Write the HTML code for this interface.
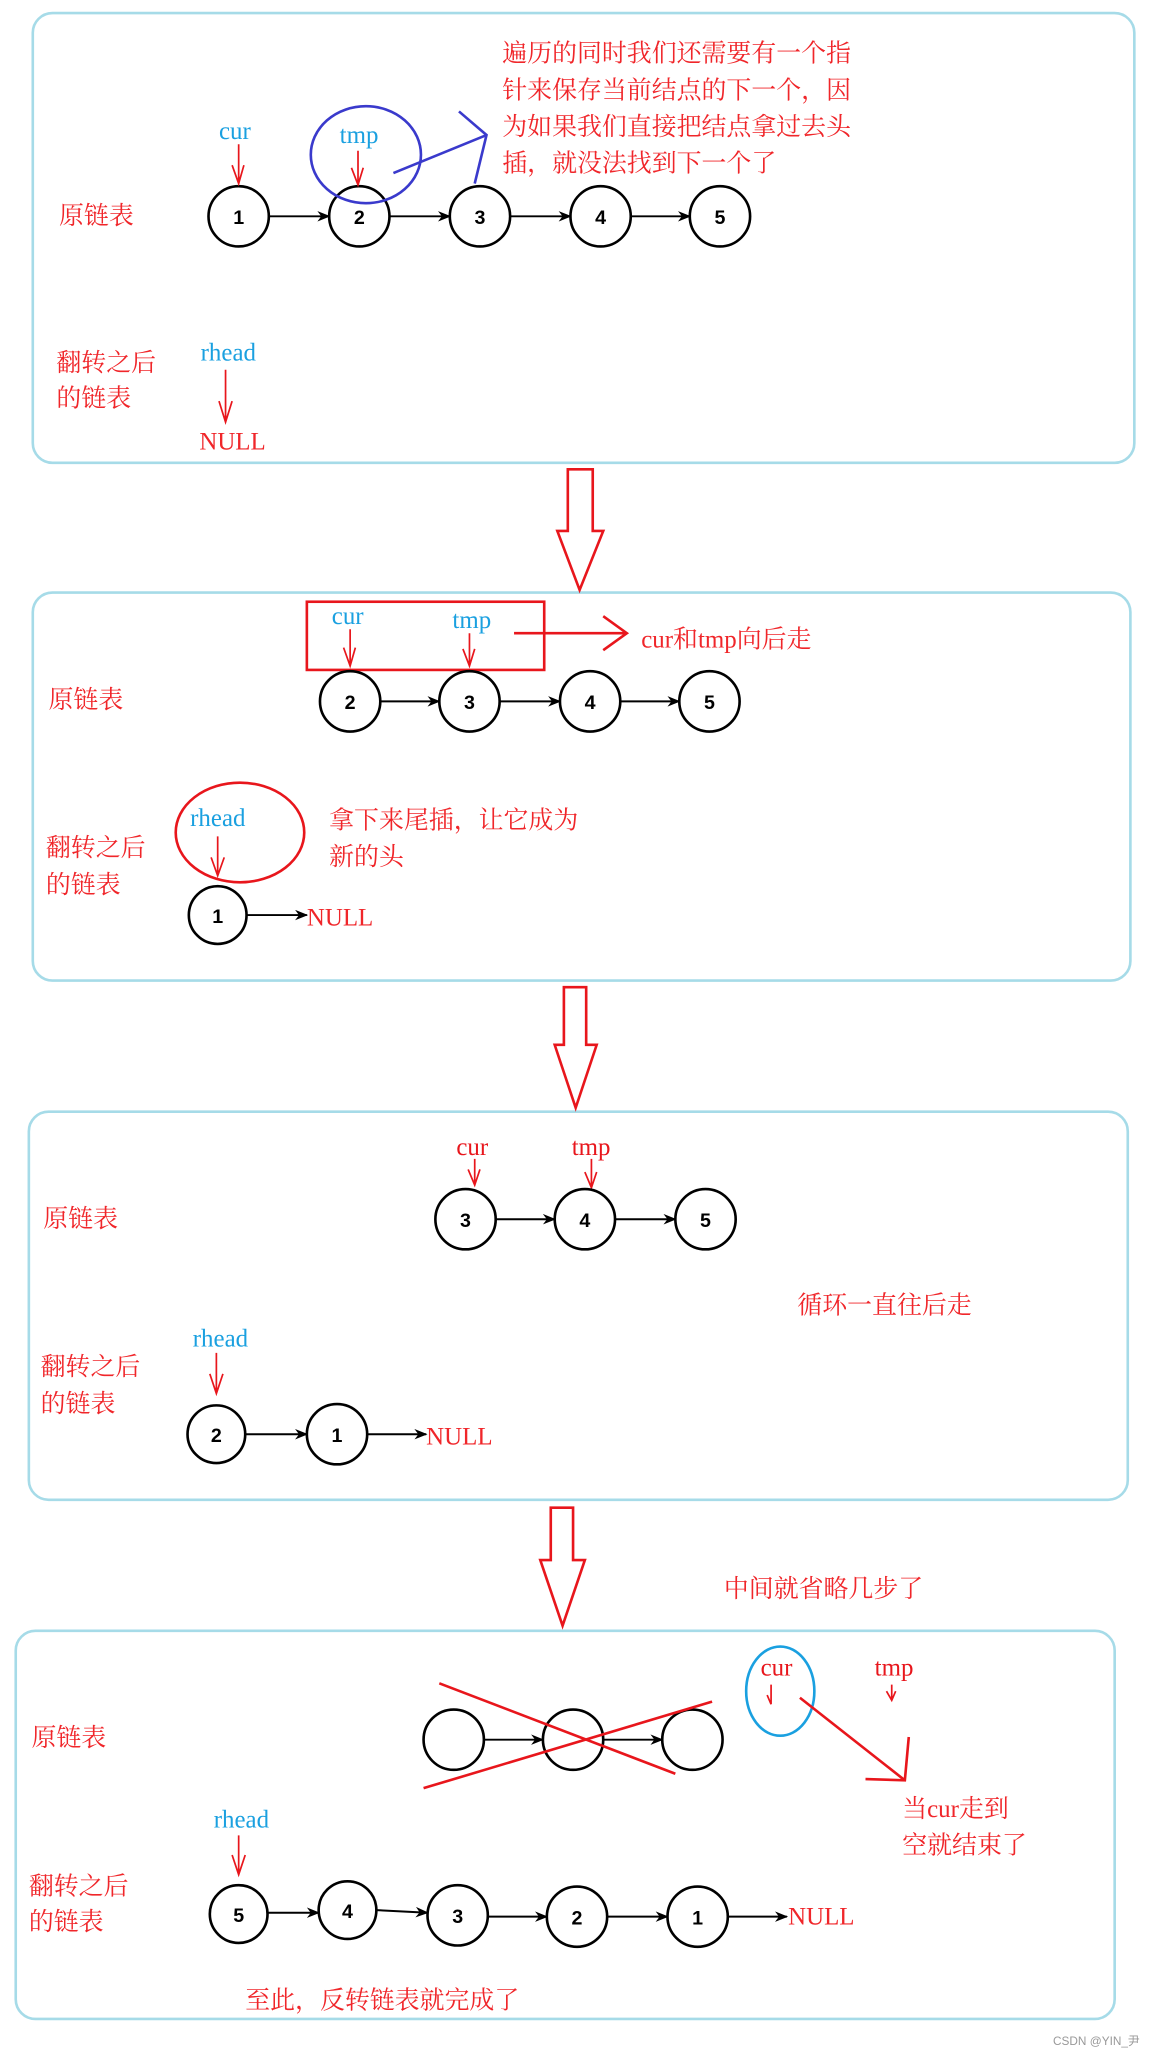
<!DOCTYPE html>
<html><head><meta charset="utf-8"><style>
html,body{margin:0;padding:0;background:#fff}
svg{display:block}
.t{font-family:"Liberation Serif","Noto Serif CJK SC",serif;fill:#f0262a;font-size:19px}
.c{font-family:"Liberation Serif","Noto Serif CJK SC",serif;font-size:19px}
.n{font-family:"Liberation Sans",sans-serif;font-weight:bold;font-size:15px;text-anchor:middle}
</style></head><body>
<svg width="1154" height="2053" viewBox="0 0 880 1566" preserveAspectRatio="none" xmlns="http://www.w3.org/2000/svg">
<defs>
<marker id="ah" markerWidth="10" markerHeight="8" refX="9" refY="4" orient="auto" markerUnits="userSpaceOnUse"><path d="M0,0 L10,4 L0,8 L3,4 z" fill="#000"/></marker>
</defs>
<g fill="none" stroke="#a6dbe8" stroke-width="2">
<rect x="25" y="10" width="840" height="343" rx="15"/>
<rect x="25" y="452" width="837" height="296" rx="15"/>
<rect x="22" y="848" width="838" height="296" rx="15"/>
<rect x="12" y="1244" width="838" height="296" rx="15"/>
</g>
<!-- big arrows -->
<g fill="none" stroke="#e8161c" stroke-width="2">
<path d="M433,358 L452,358 L452,405 L460,405 L442,450 L425,405 L433,405 Z"/>
<path d="M430,753 L447,753 L447,797 L455,797 L439,845 L423,797 L430,797 Z"/>
<path d="M420,1150 L437,1150 L437,1190 L446,1190 L429,1240 L412,1190 L420,1190 Z"/>
</g>
<!-- Box1 -->
<text class="t" x="45" y="171">原链表</text>
<g fill="#fff" stroke="#000" stroke-width="2">
<circle cx="182" cy="165" r="23"/><circle cx="274" cy="165" r="23"/><circle cx="366" cy="165" r="23"/><circle cx="458" cy="165" r="23"/><circle cx="549" cy="165" r="23"/>
</g>
<g stroke="#000" stroke-width="1.5" marker-end="url(#ah)">
<line x1="205" y1="165" x2="251" y2="165"/><line x1="297" y1="165" x2="343" y2="165"/><line x1="389" y1="165" x2="435" y2="165"/><line x1="481" y1="165" x2="526" y2="165"/>
</g>
<g class="n"><text x="182" y="171">1</text><text x="274" y="171">2</text><text x="366" y="171">3</text><text x="458" y="171">4</text><text x="549" y="171">5</text></g>
<text class="c" x="167" y="106" fill="#1aa0e0">cur</text>
<text class="c" x="259" y="109" fill="#1aa0e0">tmp</text>
<g fill="none" stroke="#e8161c" stroke-width="1.3">
<path d="M182,110 V140 M177,126 L182,140 L186,126"/>
<path d="M273,115 V141 M268,128 L273,141 L277,128"/>
<path d="M172,282 V322 M167,306 L172,322 L177,306"/>
</g>
<ellipse cx="279" cy="118" rx="42" ry="37" fill="none" stroke="#3a3acc" stroke-width="2"/>
<path d="M300,132 L371,103 M350,85 L371,103 L362,140" fill="none" stroke="#3a3acc" stroke-width="2"/>
<text class="t" x="383" y="47">遍历的同时我们还需要有一个指</text>
<text class="t" x="383" y="75">针来保存当前结点的下一个，因</text>
<text class="t" x="383" y="103">为如果我们直接把结点拿过去头</text>
<text class="t" x="383" y="131">插，就没法找到下一个了</text>
<text class="t" x="43" y="283">翻转之后</text>
<text class="t" x="43" y="310">的链表</text>
<text class="c" x="153" y="275" fill="#1aa0e0">rhead</text>
<text class="t" x="152" y="343">NULL</text>
<!-- Box2 -->
<rect x="234" y="459" width="181" height="52" fill="none" stroke="#e8161c" stroke-width="2"/>
<text class="c" x="253" y="476" fill="#1aa0e0">cur</text>
<text class="c" x="345" y="479" fill="#1aa0e0">tmp</text>
<g fill="none" stroke="#e8161c" stroke-width="1.3">
<path d="M267,480 V508 M262,494 L267,508 L271,494"/>
<path d="M358,483 V508 M353,495 L358,508 L362,495"/>
<path d="M166,638 V668 M161,654 L166,668 L171,654"/>
<path d="M362,884 V904 M357,892 L362,904 L366,892"/>
<path d="M451,884 V906 M446,894 L451,906 L455,894"/>
<path d="M165,1032 V1063 M160,1048 L165,1063 L170,1048"/>
<path d="M182,1400 V1430 M177,1415 L182,1430 L187,1415"/>
<path d="M588,1285 V1300 M585,1293 L588,1300"/>
<path d="M680,1285 V1297 M676,1290 L680,1297 L683,1290"/>
</g>
<path d="M392,483 L478,483 M460,470 L478,483 L460,496" fill="none" stroke="#e8161c" stroke-width="2"/>
<text class="t" x="489" y="494">cur和tmp向后走</text>
<text class="t" x="37" y="540">原链表</text>
<g fill="#fff" stroke="#000" stroke-width="2">
<circle cx="267" cy="535" r="23"/><circle cx="358" cy="535" r="23"/><circle cx="450" cy="535" r="23"/><circle cx="541" cy="535" r="23"/>
<circle cx="166" cy="698" r="22"/>
</g>
<g stroke="#000" stroke-width="1.5" marker-end="url(#ah)">
<line x1="290" y1="535" x2="335" y2="535"/><line x1="381" y1="535" x2="427" y2="535"/><line x1="473" y1="535" x2="518" y2="535"/>
<line x1="188" y1="698" x2="234" y2="698"/>
</g>
<g class="n"><text x="267" y="541">2</text><text x="358" y="541">3</text><text x="450" y="541">4</text><text x="541" y="541">5</text><text x="166" y="704">1</text></g>
<ellipse cx="183" cy="635" rx="49" ry="38" fill="none" stroke="#e8161c" stroke-width="2"/>
<text class="c" x="145" y="630" fill="#1aa0e0">rhead</text>
<text class="t" x="251" y="632">拿下来尾插，让它成为</text>
<text class="t" x="251" y="660">新的头</text>
<text class="t" x="35" y="653">翻转之后</text>
<text class="t" x="35" y="681">的链表</text>
<text class="t" x="234" y="706">NULL</text>
<!-- Box3 -->
<text class="c" x="348" y="881" fill="#e8161c">cur</text>
<text class="c" x="436" y="881" fill="#e8161c">tmp</text>
<text class="t" x="33" y="936">原链表</text>
<g fill="#fff" stroke="#000" stroke-width="2">
<circle cx="355" cy="930" r="23"/><circle cx="446" cy="930" r="23"/><circle cx="538" cy="930" r="23"/>
<circle cx="165" cy="1094" r="22"/><circle cx="257" cy="1094" r="23"/>
</g>
<g stroke="#000" stroke-width="1.5" marker-end="url(#ah)">
<line x1="378" y1="930" x2="423" y2="930"/><line x1="469" y1="930" x2="515" y2="930"/>
<line x1="187" y1="1094" x2="234" y2="1094"/><line x1="280" y1="1094" x2="325" y2="1094"/>
</g>
<g class="n"><text x="355" y="936">3</text><text x="446" y="936">4</text><text x="538" y="936">5</text><text x="165" y="1100">2</text><text x="257" y="1100">1</text></g>
<text class="t" x="608" y="1002">循环一直往后走</text>
<text class="c" x="147" y="1027" fill="#1aa0e0">rhead</text>
<text class="t" x="31" y="1049">翻转之后</text>
<text class="t" x="31" y="1077">的链表</text>
<text class="t" x="325" y="1102">NULL</text>
<text class="t" x="552" y="1218">中间就省略几步了</text>
<!-- Box4 -->
<text class="t" x="24" y="1332">原链表</text>
<g fill="#fff" stroke="#000" stroke-width="2">
<circle cx="346" cy="1327" r="23"/><circle cx="437" cy="1327" r="23"/><circle cx="528" cy="1327" r="23"/>
<circle cx="182" cy="1460" r="22"/><circle cx="265" cy="1457" r="22"/><circle cx="349" cy="1461" r="23"/><circle cx="440" cy="1462" r="23"/><circle cx="532" cy="1462" r="23"/>
</g>
<g stroke="#000" stroke-width="1.5" marker-end="url(#ah)">
<line x1="369" y1="1327" x2="414" y2="1327"/><line x1="460" y1="1327" x2="505" y2="1327"/>
<line x1="204" y1="1459" x2="243" y2="1459"/><line x1="287" y1="1457" x2="326" y2="1459"/><line x1="372" y1="1462" x2="417" y2="1462"/><line x1="463" y1="1462" x2="509" y2="1462"/><line x1="555" y1="1462" x2="600" y2="1462"/>
</g>
<g class="n"><text x="182" y="1466">5</text><text x="265" y="1463">4</text><text x="349" y="1467">3</text><text x="440" y="1468">2</text><text x="532" y="1468">1</text></g>
<g stroke="#e8161c" stroke-width="2"><line x1="335" y1="1284" x2="515" y2="1353"/><line x1="323" y1="1364" x2="543" y2="1298"/></g>
<ellipse cx="595" cy="1290" rx="26" ry="34" fill="none" stroke="#1aa0e0" stroke-width="2"/>
<text class="c" x="580" y="1278" fill="#e8161c">cur</text>
<text class="c" x="667" y="1278" fill="#e8161c">tmp</text>
<path d="M610,1295 L690,1358 M660,1357 L690,1358 L693,1325" fill="none" stroke="#e8161c" stroke-width="2"/>
<text class="t" x="688" y="1386">当cur走到</text>
<text class="t" x="688" y="1414">空就结束了</text>
<text class="c" x="163" y="1394" fill="#1aa0e0">rhead</text>
<text class="t" x="22" y="1445">翻转之后</text>
<text class="t" x="22" y="1472">的链表</text>
<text class="t" x="601" y="1468">NULL</text>
<text class="t" x="187" y="1532">至此，反转链表就完成了</text>
<text x="803" y="1560" font-family="Liberation Sans,Noto Sans CJK SC,sans-serif" font-size="9" fill="#999">CSDN @YIN_尹</text>
</svg>
</body></html>
